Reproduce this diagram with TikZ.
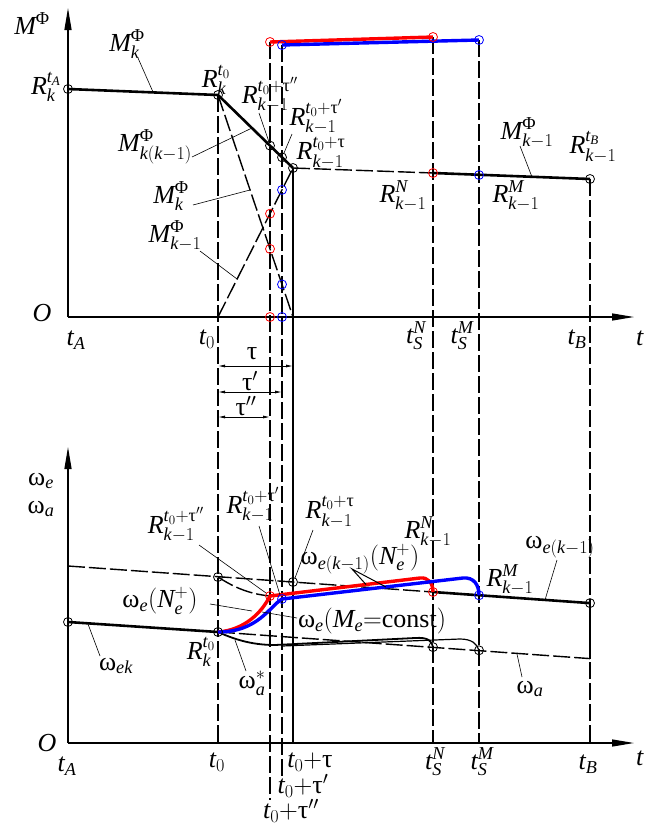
\documentclass[tikz,border=0pt]{standalone}
\usepackage{fix-cm}
\usepackage{amsmath}
\usepackage{fontspec}
\setmainfont{Liberation Serif}
\usetikzlibrary{arrows.meta}
\newcommand{\vi}[1]{\textit{#1}}
\newcommand{\tu}{\text{τ}}
\newcommand{\wo}{\text{ω}}
\newcommand{\PHI}{\text{Φ}}
\begin{document}
\begin{tikzpicture}[x=1pt,y=-1pt,
 lbl/.style={font=\fontsize{26}{28}\selectfont, inner sep=0pt},
 axis/.style={line width=1.3pt, -{Triangle[length=22pt,width=7pt]}},
 thk/.style={line width=2.6pt},
 dsh/.style={line width=1.4pt, dash pattern=on 17pt off 4pt},
 sol/.style={line width=1.4pt},
 lead/.style={line width=0.6pt},
 pt/.style={circle, draw, line width=0.8pt, minimum size=9pt, inner sep=0pt},
 rline/.style={line width=3.4pt, red},
 bline/.style={line width=3.4pt, blue},
 dim/.style={line width=0.8pt, {Latex[length=7pt,width=3pt]}-{Latex[length=7pt,width=3pt]}}
]
\useasboundingbox (0,0) rectangle (645,830);
% ---------------- upper coordinates
\coordinate (O1) at (68,317);
\coordinate (Y1) at (68,8);
\coordinate (X1) at (634,317);
\coordinate (RA) at (68,89);
\coordinate (R0) at (218,95);
\coordinate (Rpp) at (270,145.6);
\coordinate (Rp) at (282,157.3);
\coordinate (Rt) at (293,168);
\coordinate (RN) at (433,173);
\coordinate (RM) at (479,175);
\coordinate (RB) at (590,179);
\coordinate (Rr1) at (270,42);
\coordinate (Rr2) at (433,37);
\coordinate (Bb1) at (282,45);
\coordinate (Bb2) at (479,40);
\coordinate (T0) at (218,317);
\coordinate (Tpp) at (270,317);
\coordinate (Tp) at (282,317);
\coordinate (Tt) at (293,317);
\coordinate (T0b) at (218,743);
\coordinate (Tppb) at (270,800);
\coordinate (Tpb) at (282,778);
\coordinate (Ttb) at (293,743);
\coordinate (TNb) at (433,743);
\coordinate (TMb) at (479,743);
\coordinate (TBb) at (590,743);
\coordinate (cr1) at (270,213.7);
\coordinate (cr2) at (270,248.9);
\coordinate (cb1) at (282,189.9);
\coordinate (cb2) at (282,284.4);
% ---------------- lower coordinates
\coordinate (O2) at (68,743);
\coordinate (Y2) at (68,447);
\coordinate (X2) at (634,743);
\coordinate (LA) at (68,622);
\coordinate (L0) at (218,632);
\coordinate (DA) at (68,566);
\coordinate (D0) at (218,577);
\coordinate (Dt) at (293,582);
\coordinate (LN) at (433,592);
\coordinate (LM) at (479,595.3);
\coordinate (LB) at (590,603.1);
\coordinate (AB) at (590,658.6);
\coordinate (aN) at (433,647.1);
\coordinate (aM) at (479,650.3);
\coordinate (Lr) at (270,596);
\coordinate (Lb) at (282,599);
\coordinate (rk) at (420,578);
\coordinate (bk) at (463,578);
\coordinate (pa1) at (275,645);
\coordinate (pa2) at (415,638);
\coordinate (pb1) at (282,646);
\coordinate (pb2) at (460,639);
% ---------------- axes
\draw[axis] (O1) -- (Y1);
\draw[axis] (O1) -- (X1);
\draw[axis] (O2) -- (Y2);
\draw[axis] (O2) -- (X2);
% ---------------- verticals
\draw[dsh] (R0) -- (T0b);
\draw[dsh] (Rr1) -- (Tppb);
\draw[dsh] (Bb1) -- (Tpb);
\draw[sol] (Rt) -- (Ttb);
\draw[dsh] (Rr2) -- (TNb);
\draw[dsh] (Bb2) -- (TMb);
\draw[dsh] (RB) -- (TBb);
% ---------------- upper curves
\draw[thk] (RA) -- (R0) -- (Rt);
\draw[dsh] (Rt) -- (RN);
\draw[thk] (RN) -- (RB);
\draw[dsh] (R0) -- (Tt);
\draw[dsh] (T0) -- (Rt);
\draw[rline] (Rr1) -- (Rr2);
\draw[bline] (Bb1) -- (Bb2);
% ---------------- dimension arrows
\coordinate (da1) at (218,366); \coordinate (db1) at (293,366);
\coordinate (da2) at (218,392); \coordinate (db2) at (282,392);
\coordinate (da3) at (218,417); \coordinate (db3) at (270,417);
\draw[dim] (da1) -- (db1);
\draw[dim] (da2) -- (db2);
\draw[dim] (da3) -- (db3);
% ---------------- lower curves
\draw[thk] (LA) -- (L0);
\draw[dsh] (DA) -- (LN);
\draw[thk] (LN) -- (LB);
\draw[dsh] (L0) -- (AB);
\draw[sol] (AB) -- (LB);
\draw[dsh] (D0) .. controls (235,588) and (250,594) .. (Lr);
\draw[line width=1.8pt] (L0) .. controls (238,641) and (255,645) .. (pa1) -- (pa2) .. controls (428,637) and (432,641) .. (aN);
\draw[line width=1.2pt] (pb1) -- (pb2) .. controls (472,639) and (477,644) .. (aM);
\draw[rline] (L0) .. controls (245,630) and (262,612) .. (Lr) -- (rk) .. controls (428,577) and (433,583) .. (LN);
\draw[bline] (L0) .. controls (258,632) and (270,606) .. (Lb) -- (bk) .. controls (474,577) and (479,585) .. (LM);
% ---------------- circles
\foreach \p in {RA,R0,Rpp,Rp,Rt,RB,LA,D0,Dt,LB,aN,aM,L0}{\node[pt] (c\p) at (\p) {};}
\foreach \p in {Rr1,Rr2,RN,cr1,cr2,Tpp,Lr,LN}{\node[pt,red] (c\p) at (\p) {};}
\foreach \p in {Bb1,Bb2,RM,cb1,cb2,Tp,Lb,LM}{\node[pt,blue] (c\p) at (\p) {};}
% ---------------- upper labels
\node[lbl] (lMphi) at (32,24) {$\vi{M}^{\PHI}$};
\node[lbl] (lRA) at (46,87) {$\vi{R}_{\vi{k}}^{\vi{t}_{\vi{A}}}$};
\node[lbl] (lMk) at (127,44) {$\vi{M}_{\vi{k}}^{\PHI}$};
\node[lbl] (lR0) at (216,80) {$\vi{R}_{\vi{k}}^{\vi{t}_0}$};
\node[lbl] (lMkk) at (155,147) {$\vi{M}_{\vi{k}(\vi{k}-1)}^{\PHI}$};
\node[lbl] (lRpp) at (270,95) {$\vi{R}_{\vi{k}-1}^{\vi{t}_0+\tu''}$};
\node[lbl] (lRp) at (316,117) {$\vi{R}_{\vi{k}-1}^{\vi{t}_0+\tu'}$};
\node[lbl] (lRt) at (321,153) {$\vi{R}_{\vi{k}-1}^{\vi{t}_0+\tu}$};
\node[lbl] (lMk2) at (171,196) {$\vi{M}_{\vi{k}}^{\PHI}$};
\node[lbl] (lMk1) at (175,236) {$\vi{M}_{\vi{k}-1}^{\PHI}$};
\node[lbl] (lRN) at (403,196) {$\vi{R}_{\vi{k}-1}^{\vi{N}}$};
\node[lbl] (lRM) at (516,196) {$\vi{R}_{\vi{k}-1}^{\vi{M}}$};
\node[lbl] (lMk1r) at (527,133) {$\vi{M}_{\vi{k}-1}^{\PHI}$};
\node[lbl] (lRB) at (593,147) {$\vi{R}_{\vi{k}-1}^{\vi{t}_{\vi{B}}}$};
\node[lbl] (lO1) at (42,313) {\vi{O}};
\node[lbl] (ltA1) at (76,340) {$\vi{t}_{\vi{A}}$};
\node[lbl] (lt01) at (207,339) {$\vi{t}_0$};
\node[lbl] (ltN1) at (416,336) {$\vi{t}_{\vi{S}}^{\vi{N}}$};
\node[lbl] (ltM1) at (462,336) {$\vi{t}_{\vi{S}}^{\vi{M}}$};
\node[lbl] (ltB1) at (577,339) {$\vi{t}_{\vi{B}}$};
\node[lbl] (lt1) at (640,338) {\vi{t}};
\node[lbl] (ltau) at (252,354) {$\tu$};
\node[lbl] (ltau1) at (250,381) {$\tu'$};
\node[lbl] (ltau2) at (246,406) {$\tu''$};
% upper leaders
\coordinate (a1) at (138,58); \coordinate (b1) at (153,92);
\coordinate (a2) at (192,157); \coordinate (b2) at (252,128);
\coordinate (a3) at (259,113); \coordinate (b3) at (269,142);
\coordinate (a4) at (292,134); \coordinate (b4) at (284,153);
\coordinate (a5) at (193,205); \coordinate (b5) at (250,190);
\coordinate (a6) at (200,251); \coordinate (b6) at (237,279);
\coordinate (a7) at (520,146); \coordinate (b7) at (532,177);
\foreach \i in {1,...,7}{\draw[lead] (a\i) -- (b\i);}
% ---------------- lower labels
\node[lbl] (lwe) at (41,481) {$\wo_{\vi{e}}$};
\node[lbl] (lwa) at (41,509) {$\wo_{\vi{a}}$};
\node[lbl] (lLpp) at (176,525) {$\vi{R}_{\vi{k}-1}^{\vi{t}_0+\tu''}$};
\node[lbl] (lLp) at (253,505) {$\vi{R}_{\vi{k}-1}^{\vi{t}_0+\tu'}$};
\node[lbl] (lLt) at (330,512) {$\vi{R}_{\vi{k}-1}^{\vi{t}_0+\tu}$};
\node[lbl] (lwek1N) at (360,559) {$\wo_{\vi{e}(\vi{k}-1)}(\vi{N}_{\vi{e}}^{+})$};
\node[lbl] (lLN) at (428,532) {$\vi{R}_{\vi{k}-1}^{\vi{N}}$};
\node[lbl] (lwek1) at (560,547) {$\wo_{\vi{e}(\vi{k}-1)}$};
\node[lbl] (lLM) at (510,580) {$\vi{R}_{\vi{k}-1}^{\vi{M}}$};
\node[lbl] (lweN) at (160,601) {$\wo_{\vi{e}}(\vi{N}_{\vi{e}}^{+})$};
\node[lbl] (lweM) at (372,621) {$\wo_{\vi{e}}(\vi{M}_{\vi{e}}{=}\text{const})$};
\node[lbl] (lwek) at (116,666) {$\wo_{\vi{ek}}$};
\node[lbl] (lL0) at (201,652) {$\vi{R}_{\vi{k}}^{\vi{t}_0}$};
\node[lbl] (lwas) at (252,683) {$\wo_{\vi{a}}^{*}$};
\node[lbl] (lwa2) at (530,689) {$\wo_{\vi{a}}$};
\node[lbl] (lO2) at (47,743) {\vi{O}};
\node[lbl] (ltA2) at (67,766) {$\vi{t}_{\vi{A}}$};
\node[lbl] (lt02) at (217,762) {$\vi{t}_0$};
\node[lbl] (ltt) at (310,762) {$\vi{t}_0{+}\tu$};
\node[lbl] (ltp) at (303,786) {$\vi{t}_0{+}\tu'$};
\node[lbl] (ltpp) at (291,811) {$\vi{t}_0{+}\tu''$};
\node[lbl] (ltN2) at (435,762) {$\vi{t}_{\vi{S}}^{\vi{N}}$};
\node[lbl] (ltM2) at (482,762) {$\vi{t}_{\vi{S}}^{\vi{M}}$};
\node[lbl] (ltB2) at (588,764) {$\vi{t}_{\vi{B}}$};
\node[lbl] (lt2) at (640,758) {\vi{t}};
% lower leaders
\coordinate (e1) at (199,545); \coordinate (f1) at (266,593);
\coordinate (e2) at (259,526); \coordinate (f2) at (280,595);
\coordinate (e3) at (313,530); \coordinate (f3) at (295,578);
\coordinate (e4) at (557,560); \coordinate (f4) at (545,600);
\coordinate (e5) at (210,604); \coordinate (f5) at (252,611);
\coordinate (e6) at (297,618); \coordinate (f6) at (262,612);
\coordinate (e7) at (100,656); \coordinate (f7) at (88,624);
\coordinate (e8) at (246,671); \coordinate (f8) at (235,640);
\coordinate (e9) at (522,677); \coordinate (f9) at (517,654);
\foreach \i in {1,...,9}{\draw[lead] (e\i) -- (f\i);}
\coordinate (vx) at (352,569); \coordinate (vr) at (366,584.5); \coordinate (vb) at (386,587);
\draw[line width=1pt] (vr) -- (vx) -- (vb);
\end{tikzpicture}
\end{document}
